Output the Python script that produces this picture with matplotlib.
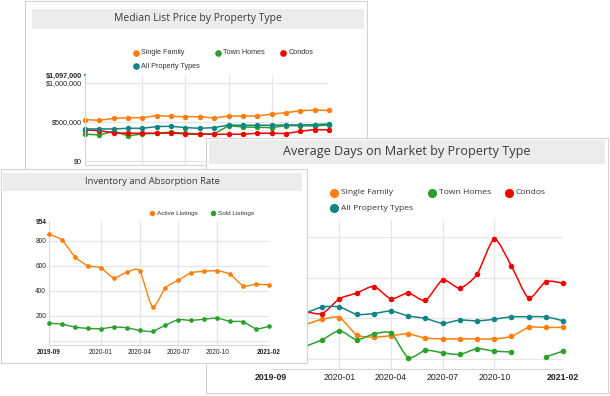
import numpy as np
import matplotlib
matplotlib.use("Agg")
import matplotlib.pyplot as plt
from matplotlib.patches import Rectangle, PathPatch
from matplotlib.path import Path

months = ['2019-09', '2019-10', '2019-11', '2019-12', '2020-01', '2020-02',
          '2020-03', '2020-04', '2020-05', '2020-06', '2020-07', '2020-08',
          '2020-09', '2020-10', '2020-11', '2020-12', '2021-01', '2021-02']
tick_months = ['2019-09', '2020-01', '2020-04', '2020-07', '2020-10', '2021-02']

# median list price
price_single = [530000, 521000, 547000, 555000, 555000, 581000, 572000, 568000, 568000,
                551000, 576000, 576000, 576000, 602000, 619000, 644000, 653000, 648000]
price_town = [343000, 335000, 381000, 322000, 347000, 356000, 369000, 356000, 347000,
              347000, 453000, 436000, 432000, 428000, 453000, 453000, 449000, 462000]
price_condo = [398000, 390000, 360000, 356000, 356000, 356000, 360000, 347000, 343000,
               343000, 343000, 343000, 356000, 356000, 352000, 381000, 403000, 398000]
price_all = [411000, 411000, 411000, 419000, 419000, 441000, 445000, 428000, 419000,
             428000, 462000, 458000, 458000, 458000, 462000, 462000, 466000, 475000]
price_max = 1097000

# inventory
active = [853, 805, 672, 600, 584, 504, 547, 560, 272, 424, 485, 544, 555, 560, 531, 440, 451, 448]
sold = [139, 133, 109, 99, 96, 109, 104, 83, 75, 125, 168, 163, 173, 181, 155, 152, 96, 115]
inv_max = 954

# days on market
days_single = [45, 44, 43, 49, 51, 30, 27, 29, 31, 26, 25, 25, 25, 25, 28, 39, 39, 39]
days_town = [10, 12, 16, 24, 35, 24, 31, 32, 2, 11, 8, 6, 13, 10, 9, None, 3, 10]
days_condo = [60, 57, 58, 56, 74, 81, 89, 74, 81, 72, 97, 87, 104, 147, 114, 75, 95, 93]
days_all = [59, 57, 57, 64, 64, 55, 56, 59, 53, 50, 44, 48, 47, 49, 52, 52, 52, 47]

ORANGE = '#ff7f0e'
GREEN = '#2ca02c'
RED = '#f50000'
TEAL = '#118585'
GRID = '#e6e6e6'
TITLE_FONT = 'Open Sans'
TICK_FONT = 'Liberation Sans'

W, H = 610, 396
fig = plt.figure(figsize=(W / 100, H / 100), dpi=100)
fig.patch.set_facecolor('white')


def rect(x0, y0, x1, y1):
    return [x0 / W, 1 - y1 / H, (x1 - x0) / W, (y1 - y0) / H]


def panel(box, bar, title, size, z):
    # card background in pixel coords (y down)
    x0, y0, x1, y1 = box
    ax = fig.add_axes(rect(x0, y0, x1, y1))
    ax.set_zorder(z)
    ax.set_xlim(x0, x1)
    ax.set_ylim(y1, y0)
    ax.set_xticks([])
    ax.set_yticks([])
    for s in ax.spines.values():
        s.set_color('#d3d3d3')
        s.set_linewidth(0.8)
    bx0, by0, bx1, by1 = bar
    ax.add_patch(Rectangle((bx0, by0), bx1 - bx0, by1 - by0, facecolor='#ececec', edgecolor='none'))
    ax.text((bx0 + bx1) / 2, (by0 + by1) / 2, title, ha='center', va='center',
            fontsize=size, color='#3a3a3a', family=TITLE_FONT)
    return ax


def legend(ax, items, ms, size, font):
    for x, y, color, label in items:
        ax.plot([x], [y], 'o', color=color, ms=ms, mew=0)
        ax.text(x + ms * 0.8 + 1.5, y, label, ha='left', va='center', fontsize=size,
                color='#333333', family=font)


def plot_axes(box, xlim, ylim, z):
    ax = fig.add_axes(rect(*box))
    ax.set_zorder(z)
    ax.patch.set_alpha(0)
    ax.set_xlim(*xlim)
    ax.set_ylim(*ylim)
    for side in ['top', 'right']:
        ax.spines[side].set_visible(False)
    for side in ['left', 'bottom']:
        ax.spines[side].set_color('#d6d6d6')
        ax.spines[side].set_linewidth(0.8)
    ax.tick_params(length=0)
    for m in tick_months[1:-1]:
        ax.axvline(months.index(m), color=GRID, lw=0.9, zorder=0)
    return ax


def xlabels(ax, size, pad):
    ax.set_xticks([months.index(m) for m in tick_months])
    ax.set_xticklabels(tick_months, fontsize=size, family=TICK_FONT, color='#222222')
    ax.tick_params(axis='x', pad=pad)
    labels = ax.get_xticklabels()
    labels[0].set_fontweight('bold')
    labels[-1].set_fontweight('bold')


def smooth(ax, ys, color, lw, k=0.12):
    # cardinal spline through the points, split at gaps
    runs, cur = [], []
    for i, y in enumerate(ys):
        if y is None:
            if cur:
                runs.append(cur)
            cur = []
        else:
            cur.append((i, y))
    if cur:
        runs.append(cur)
    for run in runs:
        p = np.array(run, float)
        if len(p) < 2:
            continue
        verts, codes = [p[0]], [Path.MOVETO]
        for i in range(len(p) - 1):
            a = p[i - 1] if i > 0 else p[i]
            d = p[i + 2] if i + 2 < len(p) else p[i + 1]
            verts += [p[i] + (p[i + 1] - a) * k, p[i + 1] - (d - p[i]) * k, p[i + 1]]
            codes += [Path.CURVE4] * 3
        ax.add_patch(PathPatch(Path(verts, codes), fill=False, edgecolor=color, lw=lw,
                               clip_on=False, zorder=2))


def markers(ax, ys, color, ms):
    y = np.array([np.nan if v is None else v for v in ys], float)
    ax.plot(np.arange(len(y)), y, 'o', color=color, ms=ms, mew=0, clip_on=False, zorder=3)


# ---------- panel 1: median list price (back) ----------
p1 = panel((25, 0.5, 367, 300), (32, 9, 364, 29), 'Median List Price by Property Type', 7.45, 1)
legend(p1, [(136, 53, ORANGE, 'Single Family'), (218, 53, GREEN, 'Town Homes'),
            (283, 53, RED, 'Condos'), (136, 66, TEAL, 'All Property Types')], 4.8, 5.2, TICK_FONT)

a1 = plot_axes((85, 75.4, 329, 164.9), (0, len(months) - 1), (-50000, price_max), 1.5)
for v in [0, 500000, 1000000]:
    a1.axhline(v, color=GRID, lw=0.9, zorder=0)
a1.set_yticks([0, 500000, 1000000, price_max])
a1.set_yticklabels(['$0', '$500,000', '$1,000,000', '$1,097,000'], fontsize=5.2,
                   family=TICK_FONT, color='#222222')
a1.get_yticklabels()[-1].set_fontweight('bold')
a1.tick_params(axis='y', pad=2)
xlabels(a1, 5.2, 3)
x = np.arange(len(months))
for ys, color in [(price_single, ORANGE), (price_town, GREEN), (price_condo, RED), (price_all, TEAL)]:
    a1.plot(x, ys, '-o', color=color, lw=1.1, ms=3.9, mew=0, clip_on=False)
a1.plot([0], [price_max], 's', color=GREEN, ms=1.5, mew=0, clip_on=False)

# ---------- panel 3: average days on market (middle) ----------
p3 = panel((206, 138, 608, 393), (209, 140, 605, 164), 'Average Days on Market by Property Type', 9.1, 3)
legend(p3, [(334, 193, ORANGE, 'Single Family'), (432, 193, GREEN, 'Town Homes'),
            (509, 193, RED, 'Condos'), (334, 208, TEAL, 'All Property Types')], 6.6, 6.1, TITLE_FONT)

a3 = plot_axes((270.7, 220, 563, 369.3), (0, len(months) - 1), (-12.2, 170.3), 3.5)
a3.spines['left'].set_visible(False)
for v in [0, 50, 100, 150]:
    a3.axhline(v, color=GRID, lw=0.9, zorder=0)
a3.set_yticks([])
xlabels(a3, 6.3, 3)
for ys, color in [(days_single, ORANGE), (days_town, GREEN), (days_condo, RED), (days_all, TEAL)]:
    smooth(a3, ys, color, 1.1)
    markers(a3, ys, color, 4.0)

# ---------- panel 2: inventory (front) ----------
p2 = panel((0.5, 169, 307, 363), (3, 173, 302, 191), 'Inventory and Absorption Rate', 6.8, 5)
legend(p2, [(152, 213, ORANGE, 'Active Listings'), (213, 213, GREEN, 'Sold Listings')],
       4.0, 4.6, TICK_FONT)

a2 = plot_axes((49, 221.45, 269, 345), (0, len(months) - 1), (-34, inv_max), 5.5)
for v in [0, 200, 400, 600, 800]:
    a2.axhline(v, color=GRID, lw=0.9, zorder=0)
a2.set_yticks([200, 400, 600, 800, inv_max])
a2.set_yticklabels(['200', '400', '600', '800', str(inv_max)], fontsize=4.7,
                   family=TICK_FONT, color='#222222')
a2.get_yticklabels()[-1].set_fontweight('bold')
a2.tick_params(axis='y', pad=2)
xlabels(a2, 4.7, 3)
for ys, color in [(active, ORANGE), (sold, GREEN)]:
    smooth(a2, ys, color, 1.0)
    markers(a2, ys, color, 3.4)

fig.savefig('out.png', dpi=100)
